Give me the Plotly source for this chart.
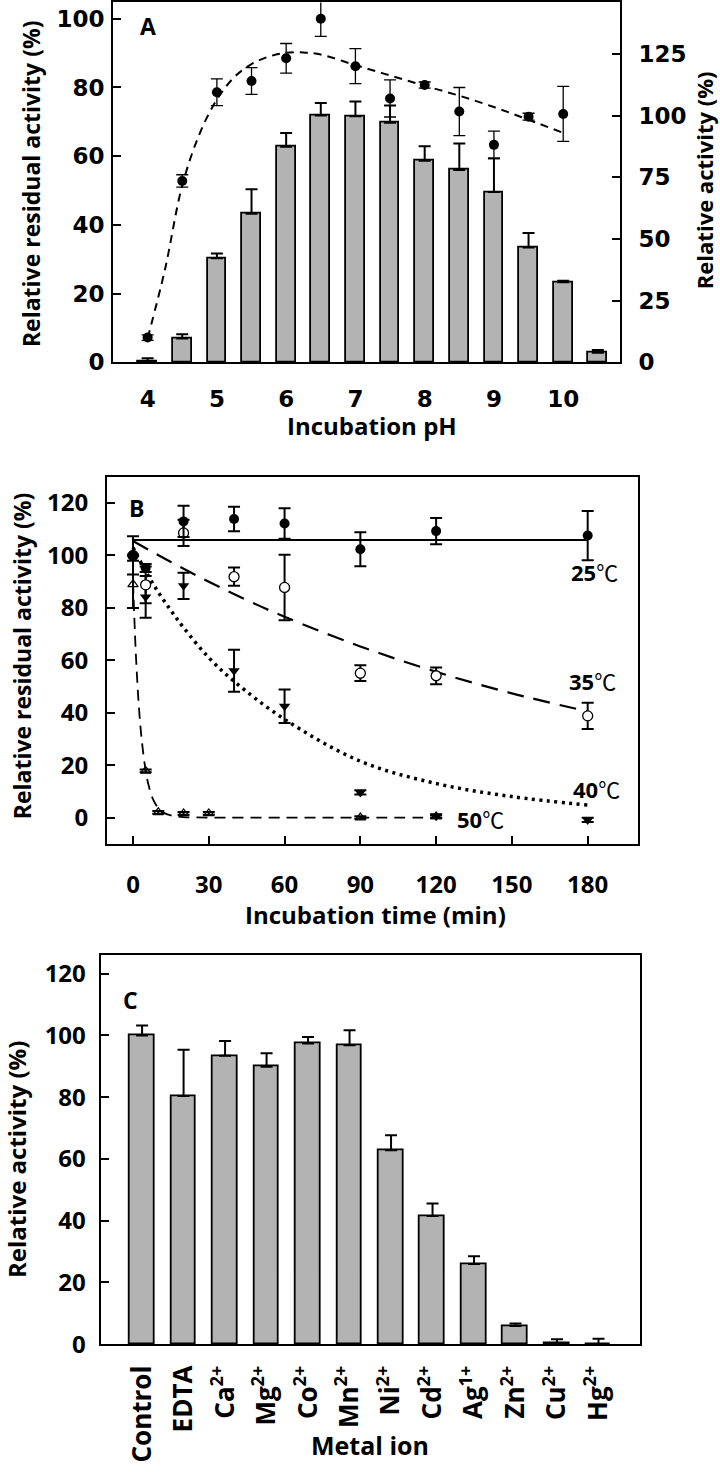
import plotly.graph_objects as go

W, H = 720, 1476

# ---------------- Panel A data ----------------
ph_bar = [4.0, 4.5, 5.0, 5.5, 6.0, 6.5, 7.0, 7.5, 8.0, 8.5, 9.0, 9.5, 10.0, 10.5]
act_bar = [0.3, 9.6, 42.2, 60.2, 87.4, 100.1, 99.8, 97.1, 81.7, 78.0, 69.0, 46.5, 32.4, 3.9]
act_err = [1.3, 1.8, 1.9, 10.0, 5.6, 5.0, 5.9, 7.0, 5.9, 10.7, 13.7, 5.9, 0.7, 1.1]

ph_dot = [4.0, 4.5, 5.0, 5.5, 6.0, 6.5, 7.0, 7.5, 8.0, 8.5, 9.0, 9.5, 10.0]
res_dot = [7.2, 52.8, 78.6, 81.9, 88.5, 100.0, 86.2, 76.8, 80.7, 73.0, 63.3, 71.5, 72.3]
res_err = [0.8, 1.8, 3.9, 3.9, 4.3, 5.1, 5.1, 5.4, 0.9, 7.0, 4.0, 1.0, 8.0]

ph_fit = [4.0, 4.25, 4.5, 4.75, 5.0, 5.25, 5.5, 5.75, 6.0, 6.25, 6.5, 7.0, 7.5, 8.0, 8.5, 9.0, 9.5, 10.0]
res_fit = [7.0, 27.0, 51.5, 66.5, 76.5, 83.0, 86.8, 89.0, 90.1, 90.2, 89.6, 86.5, 83.5, 80.5, 77.6, 74.3, 70.6, 66.8]

# ---------------- Panel B data ----------------
t25 = [0, 5, 20, 40, 60, 90, 120, 180]
y25 = [100.0, 95.2, 113.0, 113.9, 112.2, 102.4, 109.3, 107.6]
e25 = [7.3, 1.5, 6.0, 4.7, 5.8, 6.5, 5.0, 9.4]
t25_fit = [0, 180]
y25_fit = [105.9, 105.9]

t35 = [0, 5, 20, 40, 60, 90, 120, 180]
y35 = [100.0, 88.8, 108.6, 91.9, 87.8, 55.1, 54.1, 38.8]
e35 = [0.0, 7.0, 5.0, 3.5, 12.5, 3.0, 3.2, 5.0]
t35_fit = [0, 15, 30, 45, 60, 90, 120, 150, 180]
y35_fit = [105.5, 97.5, 90.0, 83.0, 76.6, 65.3, 55.6, 47.4, 40.5]

t40 = [0, 5, 20, 40, 60, 90, 120, 180]
y40 = [100.0, 84.2, 88.4, 56.0, 42.5, 9.6, 0.5, -0.9]
e40 = [0.0, 8.0, 5.0, 8.0, 6.4, 0.8, 0.8, 0.8]
t40_fit = [0, 5, 10, 15, 20, 30, 40, 60, 90, 120, 150, 180]
y40_fit = [103.0, 94.0, 86.0, 79.0, 72.5, 61.0, 52.0, 37.5, 21.5, 13.0, 8.0, 4.8]

t50 = [0, 5, 10, 20, 30, 90, 120]
y50 = [89.0, 17.8, 2.0, 1.6, 1.6, 0.0, 0.4]
e50 = [9.0, 0.5, 0.5, 0.5, 0.5, 0.5, 0.5]
t50_fit = [0, 1, 2, 3, 4, 5, 6, 8, 10, 12, 15, 20, 30, 60, 90, 120]
y50_fit = [90.0, 65.0, 47.0, 34.0, 25.0, 18.0, 13.0, 6.8, 3.6, 1.9, 0.8, 0.2, 0.0, 0.0, 0.0, 0.0]

temp_labels = ["25", "35", "40", "50"]
temp_label_t = [182.7, 181.9, 183.3, 137.4]
temp_label_y = [93.7, 52.1, 11.0, -0.4]

# ---------------- Panel C data ----------------
metals = ["Control", "EDTA", "Ca<sup>2+</sup>", "Mg<sup>2+</sup>", "Co<sup>2+</sup>", "Mn<sup>2+</sup>",
          "Ni<sup>2+</sup>", "Cd<sup>2+</sup>", "Ag<sup>1+</sup>", "Zn<sup>2+</sup>", "Cu<sup>2+</sup>", "Hg<sup>2+</sup>"]
metal_act = [100.0, 80.4, 93.4, 89.9, 97.4, 96.8, 62.8, 41.5, 26.0, 5.9, 0.3, 0.0]
metal_err = [3.2, 15.0, 4.8, 4.3, 2.1, 4.9, 4.9, 4.1, 2.5, 0.8, 1.3, 1.8]

# ---------------- styling ----------------
BAR = "#b3b3b3"
FONT = "Open Sans"
WIDE = "DejaVu Sans"
tickfont = dict(family=FONT, size=24, color="black", weight="bold")
tickfont_a = dict(family=WIDE, size=23, color="black", weight="bold")


def px_x(p):
    return p / W


def px_y(p):
    return 1 - p / H


fig = go.Figure()

# Panel A bars (right axis: relative activity)
fig.add_trace(go.Bar(
    x=ph_bar, y=act_bar, width=0.27, xaxis="x", yaxis="y",
    marker=dict(color=BAR, line=dict(color="black", width=1.8)),
    error_y=dict(type="data", array=act_err, arrayminus=[0] * len(act_err), symmetric=False,
                 color="black", thickness=2, width=6),
))
# Panel A fit curve (left axis)
fig.add_trace(go.Scatter(
    x=ph_fit, y=res_fit, mode="lines", xaxis="x", yaxis="y2",
    line=dict(color="black", width=2, dash="8px,6px", shape="spline"),
))
# Panel A residual activity dots
fig.add_trace(go.Scatter(
    x=ph_dot, y=res_dot, mode="markers", xaxis="x", yaxis="y2",
    marker=dict(color="black", size=10),
    error_y=dict(type="data", array=res_err, color="black", thickness=1.3, width=6),
))

# Panel B fit lines
fig.add_trace(go.Scatter(x=t25_fit, y=y25_fit, mode="lines", xaxis="x2", yaxis="y3",
                         line=dict(color="black", width=2.2)))
fig.add_trace(go.Scatter(x=t35_fit, y=y35_fit, mode="lines", xaxis="x2", yaxis="y3",
                         line=dict(color="black", width=2.2, dash="17px,10px", shape="spline")))
fig.add_trace(go.Scatter(x=t40_fit, y=y40_fit, mode="lines", xaxis="x2", yaxis="y3",
                         line=dict(color="black", width=3.5, dash="3px,4.5px", shape="spline")))
fig.add_trace(go.Scatter(x=t50_fit, y=y50_fit, mode="lines", xaxis="x2", yaxis="y3",
                         line=dict(color="black", width=1.8, dash="11px,7px", shape="spline")))

eb = dict(type="data", color="black", thickness=2, width=6)
fig.add_trace(go.Scatter(x=t50, y=y50, mode="markers", xaxis="x2", yaxis="y3",
                         marker=dict(symbol="triangle-up-open", color="black", size=9, line=dict(width=1.2)),
                         error_y=dict(array=e50, **eb)))
fig.add_trace(go.Scatter(x=t40, y=y40, mode="markers", xaxis="x2", yaxis="y3",
                         marker=dict(symbol="triangle-down", color="black", size=10),
                         error_y=dict(array=e40, **eb)))
fig.add_trace(go.Scatter(x=t35, y=y35, mode="markers", xaxis="x2", yaxis="y3",
                         marker=dict(symbol="circle", color="white", size=10, line=dict(color="black", width=1.3)),
                         error_y=dict(array=e35, **eb)))
fig.add_trace(go.Scatter(x=t25, y=y25, mode="markers", xaxis="x2", yaxis="y3",
                         marker=dict(symbol="circle", color="black", size=10),
                         error_y=dict(array=e25, **eb)))

# Panel C bars
fig.add_trace(go.Bar(
    x=metals, y=metal_act, width=0.6, xaxis="x3", yaxis="y4",
    marker=dict(color=BAR, line=dict(color="black", width=1.8)),
    error_y=dict(type="data", array=metal_err, arrayminus=[0] * len(metal_err), symmetric=False,
                 color="black", thickness=2, width=6),
))

ax = dict(showline=True, linecolor="black", linewidth=2, showgrid=False, zeroline=False,
          ticks="inside", ticklen=8, tickwidth=2, tickcolor="black", tickfont=tickfont)

fig.update_layout(
    width=W, height=H,
    margin=dict(l=0, r=0, t=0, b=0),
    paper_bgcolor="white", plot_bgcolor="white",
    showlegend=False, bargap=0,
    # Panel A
    xaxis=dict(ax, domain=[px_x(113), px_x(620)], anchor="y", range=[3.5, 10.82], tickfont=tickfont_a,
               tickvals=[4, 5, 6, 7, 8, 9, 10], ticks="", mirror=True, ticklabelstandoff=15),
    yaxis=dict(ax, domain=[px_y(366), px_y(2.5)], anchor="x", side="right", range=[0, 145.9],
               tickfont=tickfont_a, tickvals=[0, 25, 50, 75, 100, 125], ticklabelstandoff=12),
    yaxis2=dict(ax, overlaying="y", anchor="x", side="left", range=[0, 104.75], tickfont=tickfont_a,
                tickvals=[0, 20, 40, 60, 80, 100], ticklabelstandoff=2),
    # Panel B
    xaxis2=dict(ax, domain=[px_x(107), px_x(637.7)], anchor="y3", range=[-10.3, 199.8],
                tickvals=[0, 30, 60, 90, 120, 150, 180], mirror=True, ticklabelstandoff=18),
    yaxis3=dict(ax, domain=[px_y(852.7), px_y(482)], anchor="x2", range=[-10.1, 129.9],
                tickvals=[0, 20, 40, 60, 80, 100, 120], mirror=True, ticklabelstandoff=12),
    # Panel C
    xaxis3=dict(ax, domain=[px_x(100.6), px_x(640)], anchor="y4", range=[-1, 12], type="category",
                ticks="", tickangle=-90, mirror=True, ticklabelstandoff=9,
                tickfont=dict(family=FONT, size=26, color="black", weight="bold")),
    yaxis4=dict(ax, domain=[px_y(1358), px_y(965)], anchor="x3", range=[0, 126],
                tickvals=[0, 20, 40, 60, 80, 100, 120], mirror=True, ticklabelstandoff=8),
)

title_font = dict(family=FONT, size=23, color="black", weight="bold")
C = dict(xref="paper", yref="paper", showarrow=False, xanchor="center", yanchor="middle")
ann = []
ann.append(dict(C, x=px_x(31), y=px_y(186), text="Relative residual activity (%)", textangle=-90,
                font=title_font))
ann.append(dict(C, x=px_x(704), y=px_y(182), text="Relative activity (%)", textangle=-90,
                font=dict(title_font, size=22)))
ann.append(dict(C, x=px_x(372), y=px_y(430), text="Incubation pH", font=dict(title_font, size=24)))
ann.append(dict(C, x=px_x(22), y=px_y(663), text="Relative residual activity (%)", textangle=-90,
                font=title_font))
ann.append(dict(C, x=px_x(375), y=px_y(924), text="Incubation time (min)", font=dict(title_font, size=24)))
ann.append(dict(C, x=px_x(16), y=px_y(1172), text="Relative activity (%)", textangle=-90,
                font=dict(title_font, size=24)))
ann.append(dict(C, x=px_x(370), y=px_y(1460), text="Metal ion", font=dict(title_font, size=25)))

letter_font = dict(family=FONT, size=23, color="black", weight="bold")
L = dict(showarrow=False, xanchor="center", yanchor="middle")
ann.append(dict(L, x=4.0, y=98, xref="x", yref="y2", text="A", font=letter_font))
ann.append(dict(L, x=1.3, y=118.2, xref="x2", yref="y3", text="B", font=letter_font))
ann.append(dict(L, x=-0.27, y=111.5, xref="x3", yref="y4", text="C", font=letter_font))

for lab, tx, ty in zip(temp_labels, temp_label_t, temp_label_y):
    ann.append(dict(L, x=tx, y=ty, xref="x2", yref="y3",
                    text="<b>" + lab + "</b>℃",
                    font=dict(family="Open Sans, Noto Sans CJK SC", size=22, color="black")))

fig.update_layout(annotations=ann)

fig.write_html(
    "out.html",
    config={"displayModeBar": False},
    post_script="document.body.style.margin='0';document.body.style.overflow='hidden';",
)
